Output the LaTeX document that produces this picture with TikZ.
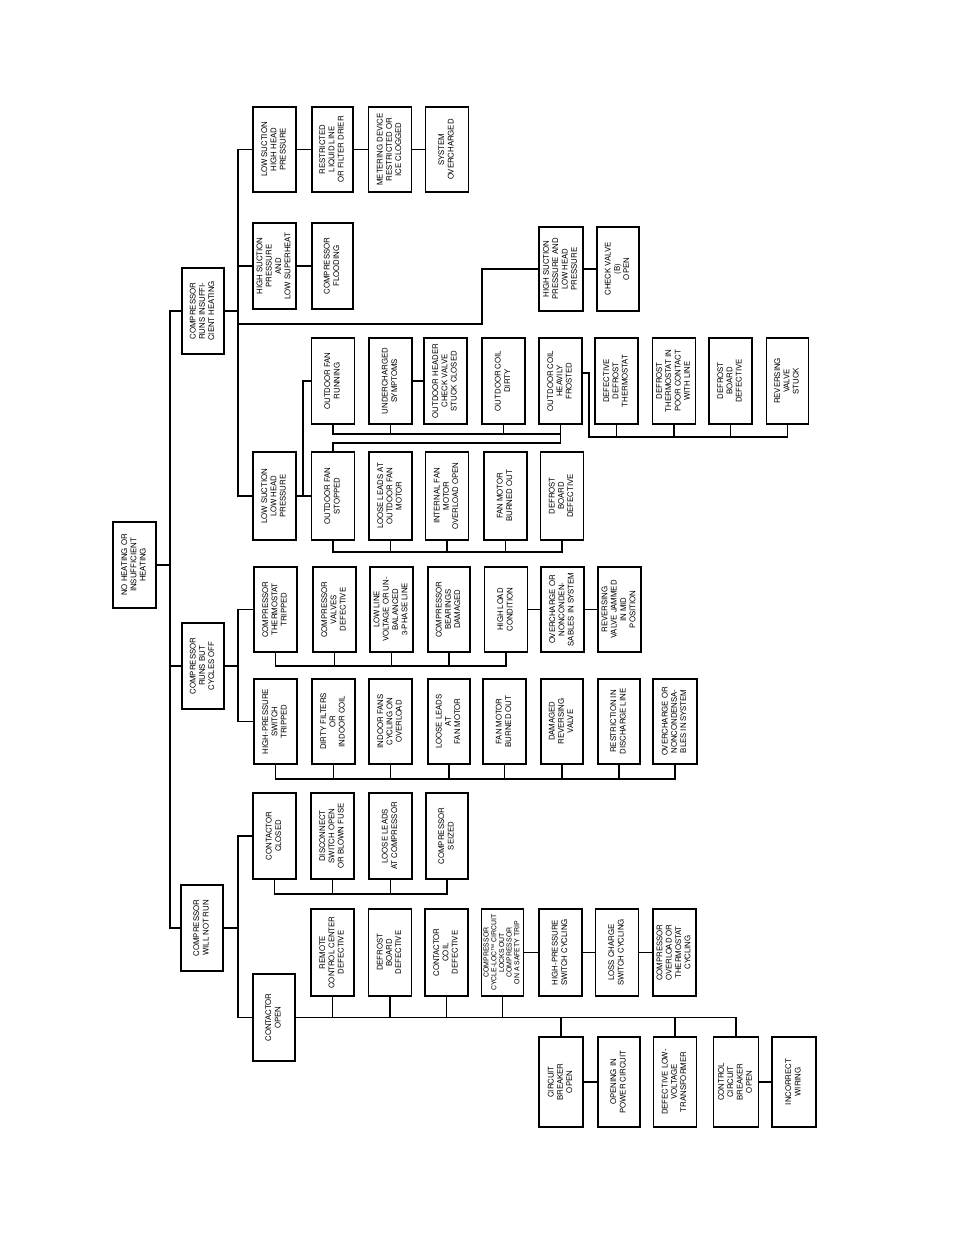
\documentclass[tikz,border=0pt]{standalone}
\usepackage{fontspec}
\setmainfont{TeX Gyre Heros}
\usepackage{graphicx}
\newcommand{\rt}[1]{\rotatebox{90}{\begin{tabular}{@{}c@{}}#1\end{tabular}}}
\begin{document}
\begin{tikzpicture}[x=1pt,y=-1pt,
  bx/.style={draw, line width=1.3pt, minimum width=43pt, minimum height=86pt, inner sep=0pt, font=\fontsize{7.8}{9.3}\selectfont},
  ln/.style={line width=1.2pt}]
\useasboundingbox[fill=white] (0,0) rectangle (954,1235);
% root and level 1
\node[bx] (root) at (134.5,565) {\rt{NO HEATING OR\\INSUFFICIENT\\HEATING}};
\node[bx, minimum width=42pt] (L1a) at (203,311) {\rt{COMPRESSOR\\RUNS INSUFFI-\\CIENT HEATING}};
\node[bx, minimum width=42pt] (L1b) at (203,666) {\rt{COMPRESSOR\\RUNS BUT\\CYCLES OFF}};
\node[bx, minimum width=42pt] (L1c) at (202,928) {\rt{COMPRESSOR\\WILL NOT RUN}};
\coordinate (tk) at (170,0);
\coordinate (sp) at (238,0);
\coordinate (sp4) at (303,0);
\coordinate (dsp) at (589,373);
\coordinate (br) at (482,324);
\coordinate (ubus) at (0,434);
\coordinate (fb) at (0,443);
\coordinate (dbus) at (0,437);
\coordinate (wbus) at (0,552);
\coordinate (pbus) at (0,666);
\coordinate (qbus) at (0,779);
\coordinate (sbus) at (0,894);
\draw[ln] (L1a.west) -- (L1a.west -| tk) -- (L1c.west -| tk) -- (L1c.west);
\draw[ln] (root.east) -- (root.east -| tk);
\draw[ln] (L1b.west) -- (L1b.west -| tk);
% group A
\node[bx, minimum height=85pt] (A1) at (274.5,149.5) {\rt{LOW SUCTION\\HIGH HEAD\\PRESSURE}};
\node[bx, minimum width=41pt, minimum height=85pt] (A1b) at (332.5,149.5) {\rt{RESTRICTED\\LIQUID LINE\\OR FILTER DRIER}};
\node[bx, minimum height=85pt] (A1c) at (390,149.5) {\rt{METERING DEVICE\\RESTRICTED OR\\ICE CLOGGED}};
\node[bx, minimum height=85pt] (A1d) at (447,149.5) {\rt{SYSTEM\\OVERCHARGED}};
\node[bx] (A2) at (274.5,266) {\rt{HIGH SUCTION\\PRESSURE\\AND\\LOW SUPERHEAT}};
\node[bx, minimum width=41pt] (A2b) at (332.5,266) {\rt{COMPRESSOR\\FLOODING}};
\node[bx, minimum width=44pt, minimum height=84pt] (A3) at (561,269) {\rt{HIGH SUCTION\\PRESSURE AND\\LOW HEAD\\PRESSURE}};
\node[bx, minimum width=42pt, minimum height=84pt] (A3b) at (618,269) {\rt{CHECK VALVE\\(B)\\OPEN}};
\node[bx, minimum height=88pt] (A4) at (274.5,496) {\rt{LOW SUCTION\\LOW HEAD\\PRESSURE}};
\draw[ln] (A1.west) -- (A1.west -| sp) -- (A4.west -| sp) -- (A4.west);
\draw[ln] (L1a.east) -- (L1a.east -| sp);
\draw[ln] (A2.west) -- (A2.west -| sp);
\draw[ln] (br -| sp) -- (br) |- (A3.west);
\draw[ln] (A1) -- (A1b);
\draw[ln] (A1b) -- (A1c);
\draw[ln] (A1c) -- (A1d);
\draw[ln] (A2) -- (A2b);
\draw[ln] (A3) -- (A3b);
% low suction low head subtree
\node[bx] (U1) at (333,381) {\rt{OUTDOOR FAN\\RUNNING}};
\node[bx] (U2) at (390.5,381) {\rt{UNDERCHARGED\\SYMPTOMS}};
\node[bx] (U3) at (445.5,381) {\rt{OUTDOOR HEADER\\CHECK VALVE\\STUCK CLOSED}};
\node[bx] (U4) at (503.5,381) {\rt{OUTDOOR COIL\\DIRTY}};
\node[bx] (U5) at (560.5,381) {\rt{OUTDOOR COIL\\HEAVILY\\FROSTED}};
\node[bx] (D1) at (616.5,381) {\rt{DEFECTIVE\\DEFROST\\THERMOSTAT}};
\node[bx] (D2) at (674,381) {\rt{DEFROST\\THERMOSTAT IN\\POOR CONTACT\\WITH LINE}};
\node[bx] (D3) at (730.5,381) {\rt{DEFROST\\BOARD\\DEFECTIVE}};
\node[bx, minimum width=42pt] (D4) at (787.5,381) {\rt{REVERSING\\VALVE\\STUCK}};
\node[bx, minimum height=88pt] (W1) at (333,496) {\rt{OUTDOOR FAN\\STOPPED}};
\node[bx, minimum height=88pt] (W2) at (390.5,496) {\rt{LOOSE LEADS AT\\OUTDOOR FAN\\MOTOR}};
\node[bx, minimum height=88pt] (W3) at (447,496) {\rt{INTERNAL FAN\\MOTOR\\OVERLOAD OPEN}};
\node[bx, minimum height=88pt] (W4) at (505.5,496) {\rt{FAN MOTOR\\BURNED OUT}};
\node[bx, minimum height=88pt] (W5) at (562,496) {\rt{DEFROST\\BOARD\\DEFECTIVE}};
\draw[ln] (A4.east) -- (A4.east -| sp4);
\draw[ln] (U1.west) -- (U1.west -| sp4) -- (W1.west -| sp4) -- (W1.west);
\draw[ln] (U1.south) -- (U1.south |- ubus) -- (U5.south |- ubus);
\draw[ln] (U2.south) -- (U2.south |- ubus);
\draw[ln] (U4.south) -- (U4.south |- ubus);
\draw[ln] (U5.south) -- (U5.south |- fb) -- (W1.north |- fb) -- (W1.north);
\draw[ln] (U2) -- (U3);
\draw[ln] (U5.east |- dsp) -- (dsp) -- (dsp |- dbus) -- (D4.south |- dbus) -- (D4.south);
\draw[ln] (D1.south) -- (D1.south |- dbus);
\draw[ln] (D2.south) -- (D2.south |- dbus);
\draw[ln] (D3.south) -- (D3.south |- dbus);
\draw[ln] (W1.south) -- (W1.south |- wbus) -- (W5.south |- wbus) -- (W5.south);
\draw[ln] (W2.south) -- (W2.south |- wbus);
\draw[ln] (W3.south) -- (W3.south |- wbus);
\draw[ln] (W4.south) -- (W4.south |- wbus);
% group B
\node[bx, minimum height=85pt] (P1) at (275.5,609.5) {\rt{COMPRESSOR\\THERMOSTAT\\TRIPPED}};
\node[bx, minimum height=85pt] (P2) at (334.5,609.5) {\rt{COMPRESSOR\\VALVES\\DEFECTIVE}};
\node[bx, minimum height=85pt] (P3) at (391.5,609.5) {\rt{LOW LINE\\VOLTAGE OR UN-\\BALANCED\\3-PHASE LINE}};
\node[bx, minimum height=85pt, minimum width=42pt] (P4) at (449,609.5) {\rt{COMPRESSOR\\BEARINGS\\DAMAGED}};
\node[bx, minimum height=85pt] (P5) at (506,609.5) {\rt{HIGH LOAD\\CONDITION}};
\node[bx, minimum height=85pt] (P6) at (562.5,609.5) {\rt{OVERCHARGE OR\\NONCONDEN-\\SABLES IN SYSTEM}};
\node[bx, minimum height=85pt] (P7) at (619.5,609.5) {\rt{REVERSING\\VALVE JAMMED\\IN MID\\POSITION}};
\node[bx, minimum height=85pt] (Q1) at (275.5,721.5) {\rt{HIGH-PRESSURE\\SWITCH\\TRIPPED}};
\node[bx, minimum height=85pt] (Q2) at (333.5,721.5) {\rt{DIRTY FILTERS\\OR\\INDOOR COIL}};
\node[bx, minimum height=85pt] (Q3) at (390.5,721.5) {\rt{INDOOR FANS\\CYCLING ON\\OVERLOAD}};
\node[bx, minimum height=85pt, minimum width=42pt] (Q4) at (449,721.5) {\rt{LOOSE LEADS\\AT\\FAN MOTOR}};
\node[bx, minimum height=85pt] (Q5) at (504.5,721.5) {\rt{FAN MOTOR\\BURNED OUT}};
\node[bx, minimum height=85pt, minimum width=42pt] (Q6) at (562,721.5) {\rt{DAMAGED\\REVERSING\\VALVE}};
\node[bx, minimum height=85pt, minimum width=42pt] (Q7) at (619,721.5) {\rt{RESTRICTION IN\\DISCHARGE LINE}};
\node[bx, minimum height=85pt, minimum width=44pt] (Q8) at (675,721.5) {\rt{OVERCHARGE OR\\NONCONDENSA-\\BLES IN SYSTEM}};
\draw[ln] (P1.west) -- (P1.west -| sp) -- (Q1.west -| sp) -- (Q1.west);
\draw[ln] (L1b.east) -- (L1b.east -| sp);
\draw[ln] (P1.south) -- (P1.south |- pbus) -- (P5.south |- pbus) -- (P5.south);
\draw[ln] (P2.south) -- (P2.south |- pbus);
\draw[ln] (P3.south) -- (P3.south |- pbus);
\draw[ln] (P4.south) -- (P4.south |- pbus);
\draw[ln] (P5) -- (P6);
\draw[ln] (P6) -- (P7);
\draw[ln] (Q1.south) -- (Q1.south |- qbus) -- (Q8.south |- qbus) -- (Q8.south);
\draw[ln] (Q2.south) -- (Q2.south |- qbus);
\draw[ln] (Q3.south) -- (Q3.south |- qbus);
\draw[ln] (Q4.south) -- (Q4.south |- qbus);
\draw[ln] (Q5.south) -- (Q5.south |- qbus);
\draw[ln] (Q6.south) -- (Q6.south |- qbus);
\draw[ln] (Q7.south) -- (Q7.south |- qbus);
% group C
\node[bx] (S1) at (274.5,836) {\rt{CONTACTOR\\CLOSED}};
\node[bx] (S2) at (332.5,836) {\rt{DISCONNECT\\SWITCH OPEN\\OR BLOWN FUSE}};
\node[bx] (S3) at (390.5,836) {\rt{LOOSE LEADS\\AT COMPRESSOR}};
\node[bx, minimum width=42pt] (S4) at (447,836) {\rt{COMPRESSOR\\SEIZED}};
\node[bx, minimum width=42pt, minimum height=87pt] (C2) at (274,1017.5) {\rt{CONTACTOR\\OPEN}};
\node[bx, minimum height=87pt] (R1) at (332.5,952.5) {\rt{REMOTE\\CONTROL CENTER\\DEFECTIVE}};
\node[bx, minimum height=87pt] (R2) at (390,952.5) {\rt{DEFROST\\BOARD\\DEFECTIVE}};
\node[bx, minimum height=87pt] (R3) at (446.5,952.5) {\rt{CONTACTOR\\COIL\\DEFECTIVE}};
\node[bx, minimum height=87pt, minimum width=42pt, font=\fontsize{6.9}{7.7}\selectfont] (R4) at (502.5,952.5) {\rt{COMPRESSOR\\CYCLE-LOC™ CIRCUIT\\LOCKS OUT\\COMPRESSOR\\ON A SAFETY TRIP}};
\node[bx, minimum height=87pt] (R5) at (560.5,952.5) {\rt{HIGH-PRESSURE\\SWITCH CYCLING}};
\node[bx, minimum height=87pt] (R6) at (617,952.5) {\rt{LOSS CHARGE\\SWITCH CYCLING}};
\node[bx, minimum height=87pt] (R7) at (674.5,952.5) {\rt{COMPRESSOR\\OVERLOAD OR\\THERMOSTAT\\CYCLING}};
\node[bx, minimum height=90pt, minimum width=44pt] (K1) at (561,1082) {\rt{CIRCUIT\\BREAKER\\OPEN}};
\node[bx, minimum height=90pt, minimum width=42pt] (K2) at (619,1082) {\rt{OPENING IN\\POWER CIRCUIT}};
\node[bx, minimum height=90pt] (K3) at (675,1082) {\rt{DEFECTIVE LOW-\\VOLTAGE\\TRANSFORMER}};
\node[bx, minimum height=90pt, minimum width=45pt] (K4) at (736,1082) {\rt{CONTROL\\CIRCUIT\\BREAKER\\OPEN}};
\node[bx, minimum height=90pt, minimum width=44pt] (K5) at (794,1082) {\rt{INCORRECT\\WIRING}};
\draw[ln] (S1.west) -- (S1.west -| sp) -- (C2.west -| sp) -- (C2.west);
\draw[ln] (L1c.east) -- (L1c.east -| sp);
\draw[ln] (S1.south) -- (S1.south |- sbus) -- (S4.south |- sbus) -- (S4.south);
\draw[ln] (S2.south) -- (S2.south |- sbus);
\draw[ln] (S3.south) -- (S3.south |- sbus);
\draw[ln] (C2.east) -- (K4.north |- C2.east) -- (K4.north);
\draw[ln] (R1.south) -- (R1.south |- C2.east);
\draw[ln] (R2.south) -- (R2.south |- C2.east);
\draw[ln] (R3.south) -- (R3.south |- C2.east);
\draw[ln] (R4.south) -- (R4.south |- C2.east);
\draw[ln] (K1.north) -- (K1.north |- C2.east);
\draw[ln] (K3.north) -- (K3.north |- C2.east);
\draw[ln] (R4) -- (R5);
\draw[ln] (R5) -- (R6);
\draw[ln] (R6) -- (R7);
\draw[ln] (K1) -- (K2);
\draw[ln] (K4) -- (K5);
\end{tikzpicture}
\end{document}
